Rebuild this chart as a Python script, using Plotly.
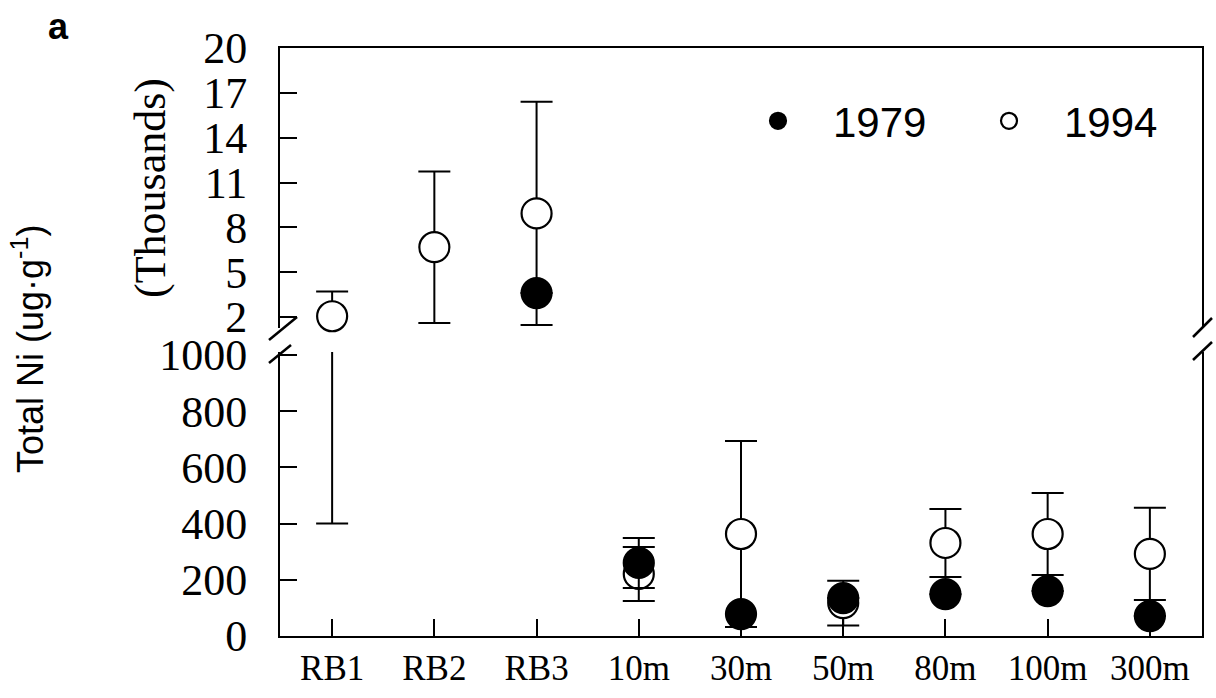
import plotly.graph_objects as go

categories = ["RB1", "RB2", "RB3", "10m", "30m", "50m", "80m", "100m", "300m"]
ni_1979 = [None, None, 3600, 260, 78, 135, 149, 160, 71]
sd_1979 = [None, None, 0, 89, 0, 0, 0, 0, 0]
ni_1994 = [2050, 6670, 8930, 221, 363, 117, 331, 363, 292]
sd_1994 = [1650, 5070, 7470, 96, 331, 80, 121, 146, 164]

upper_ticks = [2, 5, 8, 11, 14, 17, 20]
lower_ticks = [0, 200, 400, 600, 800, 1000]

W, H = 1216, 698
L, R, T, B = 280, 1202, 48, 636


def px(x):
    return (x - L) / (R - L)


def py(y):
    return (B - y) / (B - T)


def upper_only(vals):
    # thousands; keep only the values that belong to the upper (thousands) panel
    return [None if (v is None or v < 1000) else v / 1000 for v in vals]


def k(vals, ref):
    return [None if (v is None or r is None) else v / 1000 for v, r in zip(vals, ref)]


xi = list(range(len(categories)))
NB = "\u00a0"

fig = go.Figure()

series = [
    ("1994", ni_1994, sd_1994, "white", 2),
    ("1979", ni_1979, sd_1979, "black", 1),
]

for name, vals, sds, fill, rank in series:
    for panel in ("lower", "upper"):
        if panel == "upper":
            yv = upper_only(vals)
            ev = k(sds, yv)
            xa, ya = "x2", "y2"
        else:
            yv, ev = vals, sds
            xa, ya = "x", "y"
        fig.add_trace(go.Scatter(
            x=xi, y=yv, xaxis=xa, yaxis=ya, mode="markers", name=NB * 3 + name,
            legendgroup=name, showlegend=(panel == "upper"), legendrank=rank,
            cliponaxis=(panel == "lower"),
            marker=dict(size=30, color=fill, line=dict(color="black", width=2.2)),
            error_y=dict(type="data", array=ev, visible=True, color="black",
                         thickness=2, width=16),
        ))

tickfont_y = dict(family="Liberation Serif", size=44, color="black")

fig.update_layout(
    width=W, height=H,
    margin=dict(l=L, r=W - R, t=T, b=H - B, autoexpand=False),
    paper_bgcolor="white", plot_bgcolor="white",
    showlegend=True,
    legend=dict(orientation="h", x=px(758), xanchor="left", y=py(121), yanchor="middle",
                font=dict(family="Liberation Sans", size=42, color="black"),
                entrywidth=186, entrywidthmode="pixels", itemsizing="trace",
                bgcolor="rgba(0,0,0,0)"),
    xaxis=dict(domain=[0, 1], range=[-0.51, 8.51], tickmode="array", tickvals=xi,
               ticktext=categories, ticks="inside", ticklen=17, tickwidth=2,
               tickcolor="black", showline=True, linecolor="black", linewidth=2,
               showgrid=False, zeroline=False, ticklabelstandoff=0, tickangle=0,
               automargin=False,
               tickfont=dict(family="Liberation Serif", size=35, color="black")),
    xaxis2=dict(domain=[0, 1], range=[-0.51, 8.51], anchor="y2", side="top",
                matches="x", showticklabels=False, ticks="", showline=True,
                linecolor="black", linewidth=2, showgrid=False, zeroline=False,
                automargin=False),
    yaxis=dict(domain=[0, py(352)], range=[0, (B - 352) / 0.281], tickmode="array",
               tickvals=lower_ticks, ticks="inside", ticklen=17, tickwidth=2,
               tickcolor="black", showline=True, mirror=True, linecolor="black",
               linewidth=2, showgrid=False, zeroline=False, ticklabelstandoff=22,
               automargin=False, tickfont=tickfont_y),
    yaxis2=dict(domain=[py(328), 1], range=[2 - (328 - 317) / 14.94, 20], anchor="x2",
                tickmode="array", tickvals=upper_ticks, ticks="inside", ticklen=17,
                tickwidth=2, tickcolor="black", showline=True, mirror=True,
                linecolor="black", linewidth=2, showgrid=False, zeroline=False,
                ticklabelstandoff=22, automargin=False, tickfont=tickfont_y),
    annotations=[
        dict(text="<b>a</b>", x=px(58), y=py(26), xref="paper", yref="paper",
             xanchor="center", yanchor="middle", showarrow=False,
             font=dict(family="Liberation Sans", size=36, color="black")),
        dict(text="Total Ni (ug·g<sup>-1</sup>)", x=px(28), y=py(349), xref="paper",
             yref="paper", xanchor="center", yanchor="middle", showarrow=False,
             textangle=-90, font=dict(family="Liberation Sans", size=36, color="black")),
        dict(text="(Thousands)", x=px(150), y=py(188), xref="paper", yref="paper",
             xanchor="center", yanchor="middle", showarrow=False, textangle=-90,
             font=dict(family="Liberation Serif", size=44, color="black")),
    ],
)

slashes = [((269, 340), (297, 317)), ((269, 363), (291, 345)),
           ((1193, 337), (1212, 318)), ((1193, 360), (1212, 342))]
for (x0, y0), (x1, y1) in slashes:
    fig.add_shape(type="line", xref="paper", yref="paper", x0=px(x0), y0=py(y0),
                  x1=px(x1), y1=py(y1), line=dict(color="black", width=2.5))

fig.write_html("out.html")
